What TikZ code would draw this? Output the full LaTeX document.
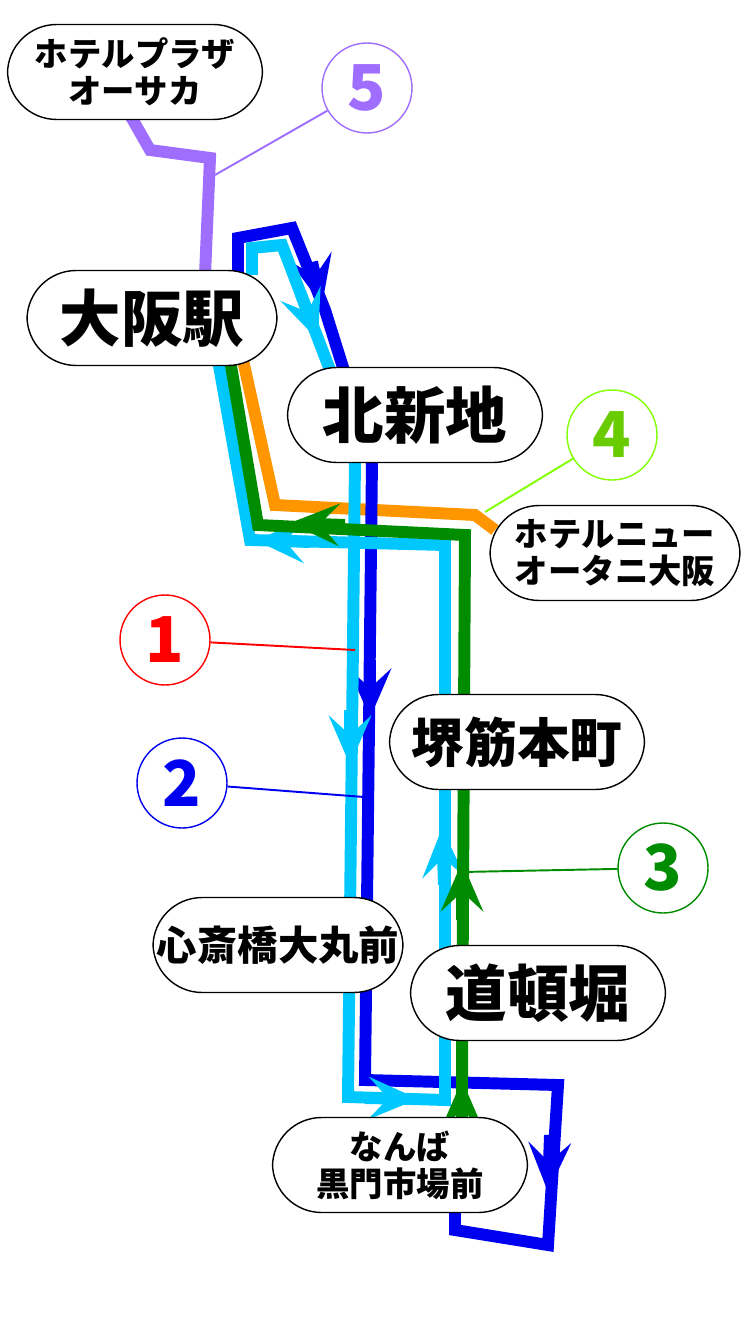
\documentclass[tikz,border=0pt]{standalone}
\usepackage{fontspec}
\newfontfamily\jp{Noto Sans CJK JP}
\usetikzlibrary{arrows.meta,
                positioning}
\begin{document}
\begin{tikzpicture}[x=0.02cm,y=-0.02cm,
                    stop/.style={draw,thick,rounded corners=28pt,fill=white,align=center,
                                 minimum width=#1*0.02cm,minimum height=1.9cm,inner sep=2pt,
                                 font=\jp\bfseries\fontsize{35}{36}\selectfont},
                    small/.style={font=\jp\bfseries\fontsize{19}{21}\selectfont},
                    mid/.style={font=\jp\bfseries\fontsize{30}{32}\selectfont},
                    long/.style={font=\jp\bfseries\fontsize{23}{25}\selectfont},
                    num/.style={draw=#1,thick,circle,fill=white,text=#1,minimum size=1.8cm,inner sep=0,
                                font=\jp\bfseries\fontsize{36}{36}\selectfont},
                    route/.style={line width=6.8pt,draw=#1,line join=miter},
                    head/.style={line width=6.8pt,draw=#1,fill=#1,
                                 -{Stealth[length=28pt,width=24pt,inset=11pt]}},
                    pointer/.style={draw=#1,line width=1.1pt}
                    ]
    \useasboundingbox (0,0) rectangle (750,1334);
    \definecolor{dblue}{RGB}{0,0,240}
    \definecolor{lblue}{RGB}{0,200,255}
    \definecolor{dgreen}{RGB}{0,140,0}
    \definecolor{purp}{RGB}{160,110,255}
    \definecolor{lime}{RGB}{130,255,0}
    \definecolor{orng}{RGB}{255,150,0}
    %route 5
    \draw[route=purp] (130,115) -- (150,150) -- (210,158) -- (205,275);
    %route 4
    \draw[route=orng] (243,360) -- (275,505) -- (475,515) -- (495,530);
    %route 2
    \draw[route=dblue] (238,275) -- (238,238) -- (292,228) -- (325,310) -- (372,460)
        -- (365,1080) -- (558,1085) -- (548,1245) -- (455,1230) -- (455,1195);
    \draw[head=dblue] (312,262) -- (322,305);
    \draw[head=dblue] (370,660) -- (370,718);
    \draw[head=dblue] (550,1135) -- (548,1192);
    %route 1
    \draw[route=lblue] (252,275) -- (252,248) -- (282,245) -- (330,370) -- (355,460)
        -- (348,1097) -- (445,1100) -- (445,545) -- (250,540) -- (218,360);
    \draw[head=lblue] (300,292) -- (318,340);
    \draw[head=lblue] (350,710) -- (350,765);
    \draw[head=lblue] (365,1098) -- (418,1099);
    \draw[head=lblue] (444,885) -- (442,828);
    \draw[head=lblue] (310,542) -- (255,540);
    %route 3
    \draw[route=dgreen] (462,1120) -- (462,1080) -- (465,535) -- (258,525) -- (230,360);
    \draw[head=dgreen] (462,920) -- (462,862);
    \draw[head=dgreen] (462,1125) -- (462,1080);
    \draw[head=dgreen] (345,525) -- (290,523);
    %stops
    \node[stop=255,small] (plaza) at (135,72) {ホテルプラザ\\オーサカ};
    \node[stop=250] (umeda) at (152,318) {大阪駅};
    \node[stop=255] (kita) at (415,415) {北新地};
    \node[stop=250,small] (otani) at (615,553) {ホテルニュー\\オータニ大阪};
    \node[stop=255,mid] (sakai) at (517,742) {堺筋本町};
    \node[stop=250,long] (daimaru) at (278,945) {心斎橋大丸前};
    \node[stop=255] (dotom) at (538,993) {道頓堀};
    \node[stop=255,small] (namba) at (400,1165) {なんば\\黒門市場前};
    %route numbers
    \node[num=purp] (n5) at (367,88) {5};
    \node[num=lime,text=lime!80!black] (n4) at (612,435) {4};
    \node[num=red] (n1) at (165,640) {1};
    \node[num=dblue] (n2) at (182,783) {2};
    \node[num=dgreen] (n3) at (663,868) {3};
    \coordinate (p5) at (215,175);
    \coordinate (p4) at (485,512);
    \coordinate (p1) at (355,650);
    \coordinate (p2) at (364,797);
    \coordinate (p3) at (462,872);
    \draw[pointer=purp] (n5) -- (p5);
    \draw[pointer=lime] (n4) -- (p4);
    \draw[pointer=red] (n1) -- (p1);
    \draw[pointer=dblue] (n2) -- (p2);
    \draw[pointer=dgreen] (n3) -- (p3);
\end{tikzpicture}
\end{document}
